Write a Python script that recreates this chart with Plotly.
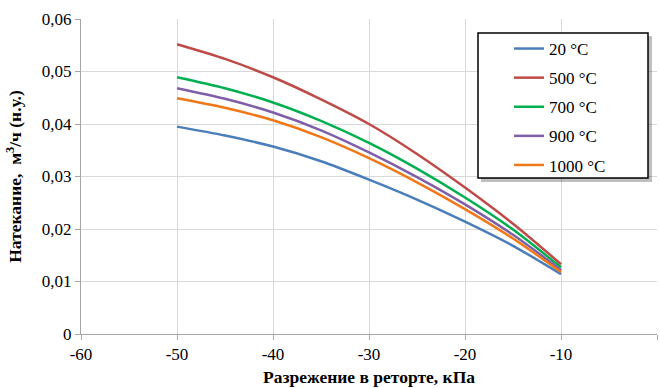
import plotly.graph_objects as go

x_vals = [-50, -45, -40, -35, -30, -25, -20, -15, -10]
y_20 = [0.0395, 0.0378, 0.0357, 0.0329, 0.0294, 0.0256, 0.0214, 0.0168, 0.0114]
y_500 = [0.0552, 0.0524, 0.0489, 0.0447, 0.0400, 0.0343, 0.0279, 0.0210, 0.0133]
y_700 = [0.0489, 0.0468, 0.0441, 0.0406, 0.0364, 0.0315, 0.0260, 0.0199, 0.0127]
y_900 = [0.0468, 0.0448, 0.0422, 0.0388, 0.0346, 0.0299, 0.0247, 0.0189, 0.0122]
y_1000 = [0.0449, 0.0431, 0.0407, 0.0375, 0.0335, 0.0289, 0.0238, 0.0182, 0.0118]

series_names = ["20 °C", "500 °C", "700 °C", "900 °C", "1000 °C"]
series_colors = ["#4a7ebb", "#be4b48", "#00b050", "#7f60a8", "#f07818"]

x_tickvals = [-60, -50, -40, -30, -20, -10, 0]
x_ticktext = ["-60", "-50", "-40", "-30", "-20", "-10", "0"]
y_tickvals = [0, 0.01, 0.02, 0.03, 0.04, 0.05, 0.06]
y_ticktext = ["0", "0,01", "0,02", "0,03", "0,04", "0,05", "0,06"]

FONT = "Times New Roman"

fig = go.Figure()
for i, (name, ys) in enumerate(zip(series_names, [y_20, y_500, y_700, y_900, y_1000])):
    fig.add_trace(go.Scatter(
        x=x_vals, y=ys, mode="lines", name=name,
        line=dict(color=series_colors[i], width=2.5, shape="spline", smoothing=0.8),
        legendgroup=f"g{i}",
    ))

# legend box (shadow + frame)
fig.add_shape(type="rect", xref="paper", yref="paper",
              x0=(481 - 81) / 576, x1=(652 - 81) / 576,
              y0=(334 - 182) / 315, y1=(334 - 36) / 315,
              fillcolor="rgba(0,0,0,0.25)", line=dict(width=0), layer="above")
fig.add_shape(type="rect", xref="paper", yref="paper",
              x0=(478 - 81) / 576, x1=(648 - 81) / 576,
              y0=(334 - 178) / 315, y1=(334 - 33) / 315,
              fillcolor="white", line=dict(color="black", width=1.5), layer="above")

fig.update_layout(
    width=660, height=388,
    margin=dict(l=81, r=3, t=19, b=54),
    paper_bgcolor="white", plot_bgcolor="white",
    font=dict(family=FONT, size=17, color="black"),
    showlegend=True,
    legend=dict(
        x=(509 - 81) / 576, xanchor="left",
        y=(334 - 31) / 315, yanchor="top",
        bgcolor="rgba(0,0,0,0)", borderwidth=0,
        font=dict(family=FONT, size=17),
        traceorder="grouped", tracegroupgap=4,
        itemwidth=30,
    ),
    xaxis=dict(
        range=[-60, 0], tickvals=x_tickvals, ticktext=x_ticktext,
        tickfont=dict(family=FONT, size=17),
        showgrid=True, gridcolor="#d9d9d9", gridwidth=1,
        zeroline=False, showline=True, linecolor="#a6a6a6", linewidth=1,
        ticks="outside", ticklen=5, tickcolor="#a6a6a6",
        title=dict(text="<b>Разрежение в реторте, кПа</b>", font=dict(family=FONT, size=17.5), standoff=7),
    ),
    yaxis=dict(
        range=[0, 0.06], tickvals=y_tickvals, ticktext=y_ticktext,
        tickfont=dict(family=FONT, size=17),
        showgrid=True, gridcolor="#d9d9d9", gridwidth=1,
        zeroline=False, showline=True, linecolor="#a6a6a6", linewidth=1,
        ticks="outside", ticklen=5, tickcolor="#a6a6a6",
        title=dict(text="<b>Натекание,  м<sup>3</sup>/ч (н.у.)</b>", font=dict(family=FONT, size=17.5), standoff=15),
    ),
)

fig.write_html("out.html")
